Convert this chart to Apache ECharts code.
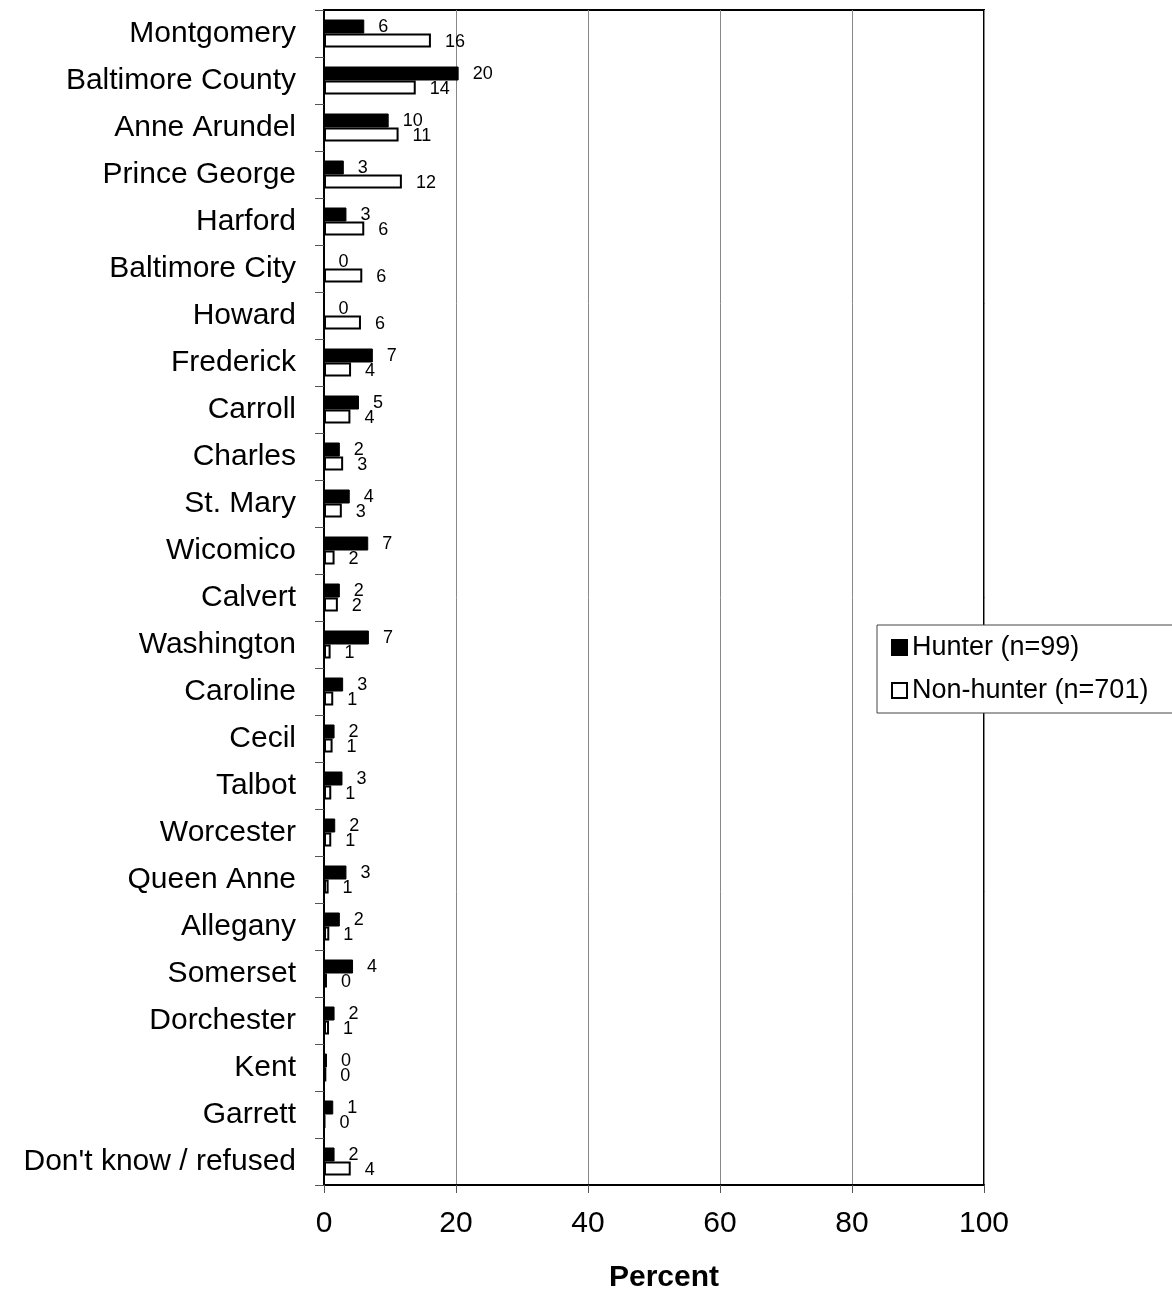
<!DOCTYPE html>
<html>
<head>
<meta charset="utf-8">
<script src="https://cdn.jsdelivr.net/npm/echarts@6/dist/echarts.min.js"></script>
<style>
  html, body { margin: 0; padding: 0; background: #fff; }
  #chart { width: 1172px; height: 1294px; }
</style>
</head>
<body>
<div id="chart"></div>
<script>
var counties = ['Montgomery', 'Baltimore County', 'Anne Arundel', 'Prince George', 'Harford',
    'Baltimore City', 'Howard', 'Frederick', 'Carroll', 'Charles', 'St. Mary', 'Wicomico',
    'Calvert', 'Washington', 'Caroline', 'Cecil', 'Talbot', 'Worcester', 'Queen Anne',
    'Allegany', 'Somerset', 'Dorchester', 'Kent', 'Garrett', "Don't know / refused"];

var hunter = [6.1, 20.4, 9.8, 3.0, 3.4, 0, 0, 7.4, 5.3, 2.4, 3.9, 6.7, 2.4, 6.8, 2.9,
    1.6, 2.8, 1.7, 3.4, 2.4, 4.4, 1.6, 0.45, 1.4, 1.6];
var nonHunter = [16.2, 13.9, 11.3, 11.8, 6.1, 5.8, 5.6, 4.1, 4.0, 2.9, 2.7, 1.6, 2.1, 1.0, 1.4,
    1.3, 1.1, 1.1, 0.7, 0.8, 0.45, 0.76, 0.35, 0.15, 4.05];

var xTicks = [0, 20, 40, 60, 80, 100];

var font = 'Arial, "Liberation Sans", Helvetica, sans-serif';

// labels sit a bit off the bar end, hunter ones nudged up, non-hunter down
function labelOpt(dy) {
    return {
        show: true,
        position: 'right',
        distance: 14,
        offset: [0, dy],
        color: '#000',
        fontFamily: font,
        fontSize: 18,
        formatter: function (p) { return Math.round(p.value); }
    };
}

var myChart = echarts.init(document.getElementById('chart'));
var option = {
    backgroundColor: '#fff',
    animation: false,
    textStyle: { fontFamily: font },
    grid: {
        left: 324,
        right: 188,
        top: 10,
        bottom: 109,
        outerBoundsMode: 'none',
        containLabel: false,
        show: true,
        borderColor: '#000',
        borderWidth: 2
    },
    legend: {
        orient: 'vertical',
        left: 877,
        top: 625,
        data: ['Hunter (n=99)', 'Non-hunter (n=701)'],
        backgroundColor: '#fff',
        borderColor: '#444',
        borderWidth: 1,
        padding: [9, 40, 9, 14],
        itemGap: 16,
        itemWidth: 15,
        itemHeight: 15,
        icon: 'rect',
        textStyle: { fontFamily: font, fontSize: 27, color: '#000', padding: [0, 0, 0, 0] }
    },
    xAxis: {
        type: 'value',
        min: 0,
        max: 100,
        interval: 20,
        name: 'Percent',
        nameLocation: 'middle',
        nameGap: 78,
        nameTextStyle: { fontFamily: font, fontSize: 30, fontWeight: 'bold', color: '#000', padding: [0, 0, 0, 20] },
        axisLine: { show: true, lineStyle: { color: '#000', width: 2 } },
        axisTick: { show: true, length: 8, lineStyle: { color: '#555' } },
        axisLabel: {
            margin: 24,
            fontFamily: font,
            fontSize: 30,
            color: '#000',
            formatter: function (v) { return xTicks.indexOf(v) >= 0 ? v : ''; }
        },
        splitLine: { show: true, lineStyle: { color: '#888', width: 1 } }
    },
    yAxis: {
        type: 'category',
        inverse: true,
        data: counties,
        axisLine: { show: true, lineStyle: { color: '#000', width: 2 } },
        axisTick: { show: true, inside: false, length: 9, lineStyle: { color: '#555' } },
        axisLabel: { margin: 28, fontFamily: font, fontSize: 30, color: '#000', padding: [8, 0, 0, 0] },
        splitLine: { show: false }
    },
    series: [
        {
            name: 'Hunter (n=99)',
            type: 'bar',
            data: hunter,
            barWidth: 14,
            barGap: '0%',
            itemStyle: { color: '#000', borderColor: '#000', borderWidth: 1 },
            label: labelOpt(1)
        },
        {
            name: 'Non-hunter (n=701)',
            type: 'bar',
            data: nonHunter,
            barWidth: 14,
            barGap: '0%',
            itemStyle: { color: '#fff', borderColor: '#000', borderWidth: 2 },
            label: labelOpt(2)
        }
    ]
};
myChart.setOption(option);
</script>
</body>
</html>
